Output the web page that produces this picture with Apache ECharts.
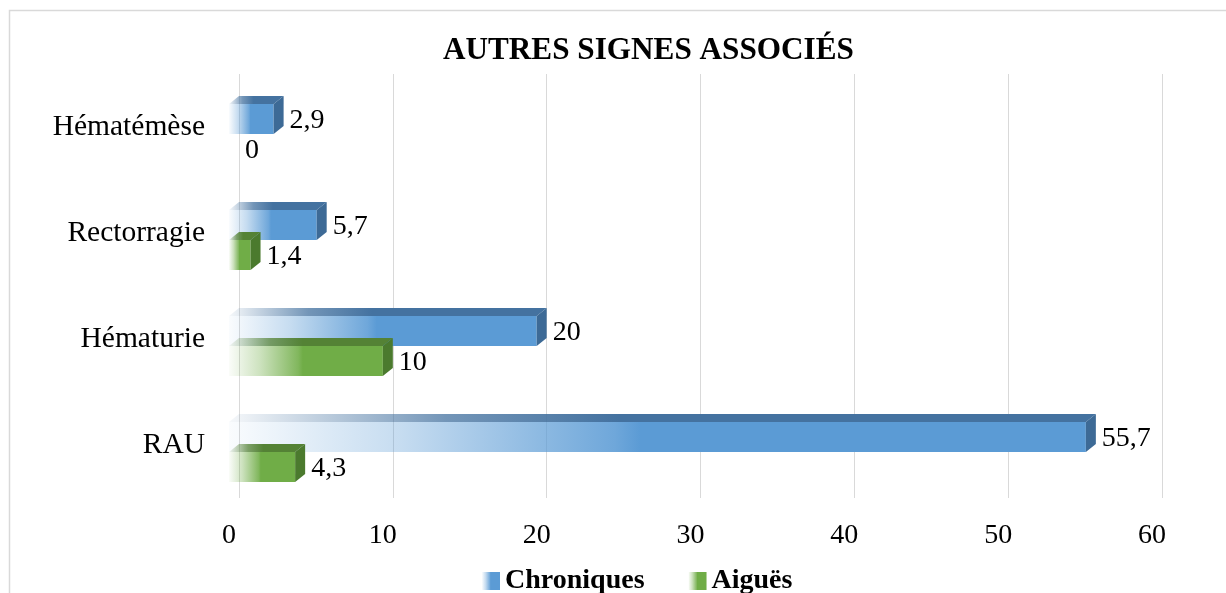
<!DOCTYPE html>
<html>
<head>
<meta charset="utf-8">
<script src="https://cdn.jsdelivr.net/npm/echarts@6/dist/echarts.min.js"></script>
<style>
  html, body { margin: 0; padding: 0; background: #fff; }
  #chart1 { width: 1226px; height: 593px; }
</style>
</head>
<body>
<div id="chart1"></div>
<script>
// données du graphique
var categories = ['Hématémèse', 'Rectorragie', 'Hématurie', 'RAU'];
var chroniques = [2.9, 5.7, 20, 55.7];
var aigues = [0, 1.4, 10, 4.3];
var xTicks = [0, 10, 20, 30, 40, 50, 60];

var FONT = 'Liberation Serif';

// dégradé horizontal : transparent à gauche, couleur pleine vers le milieu
function fade(r, g, b) {
    var c = 'rgba(' + r + ',' + g + ',' + b + ',';
    return new echarts.graphic.LinearGradient(0, 0, 1, 0, [
        { offset: 0, color: c + '0.03)' },
        { offset: 0.2, color: c + '0.35)' },
        { offset: 0.45, color: c + '0.88)' },
        { offset: 0.48, color: c + '1)' },
        { offset: 1, color: c + '1)' }
    ]);
}
// dessus de la barre : devient foncé plus vite
function fadeTop(r, g, b) {
    var c = 'rgba(' + r + ',' + g + ',' + b + ',';
    return new echarts.graphic.LinearGradient(0, 0, 1, 0, [
        { offset: 0, color: c + '0.05)' },
        { offset: 0.25, color: c + '0.75)' },
        { offset: 0.45, color: c + '1)' },
        { offset: 1, color: c + '1)' }
    ]);
}

var styles = [
    { front: [91, 155, 213], top: [68, 114, 160], side: '#3d6a96' },   // Chroniques
    { front: [112, 173, 71], top: [84, 130, 53], side: '#4b7a2e' }     // Aiguës
];

// barre "3D" : face avant + dessus + côté droit
function bar3d(idx) {
    return function (params, api) {
        var cat = api.value(0), v = api.value(1);
        var p0 = api.coord([0, cat]);
        var p1 = api.coord([v, cat]);
        var bw = 30, dx = 10, dy = 8;
        var yc = p0[1] + 7;
        var y0 = idx === 0 ? yc - bw : yc;
        var y1 = y0 + bw;
        var xl = p0[0] - dx, xr = p1[0] - dx;
        var st = styles[idx];
        var children = [];
        if (v > 0) {
            children.push({
                type: 'polygon',
                shape: { points: [[xl, y0], [xr, y0], [xr + dx, y0 - dy], [xl + dx, y0 - dy]] },
                style: { fill: fadeTop(st.top[0], st.top[1], st.top[2]) }
            });
            children.push({
                type: 'rect',
                shape: { x: xl, y: y0, width: xr - xl, height: bw },
                style: { fill: fade(st.front[0], st.front[1], st.front[2]) }
            });
            children.push({
                type: 'polygon',
                shape: { points: [[xr, y0], [xr + dx, y0 - dy], [xr + dx, y1 - dy], [xr, y1]] },
                style: { fill: st.side }
            });
        }
        children.push({
            type: 'text',
            x: xr + dx + 6,
            y: (y0 + y1) / 2 + 2,
            style: {
                text: String(v).replace('.', ','),
                fontFamily: FONT,
                fontSize: 28,
                fill: '#000',
                align: 'left',
                verticalAlign: 'middle'
            }
        });
        return { type: 'group', children: children };
    };
}

var myChart = echarts.init(document.getElementById('chart1'));
var option = {
    backgroundColor: '#fff',
    animation: false,
    title: {
        text: 'AUTRES SIGNES ASSOCIÉS',
        left: 438,
        top: 30,
        textStyle: { fontFamily: FONT, fontSize: 31.2, fontWeight: 'bold', color: '#000' }
    },
    graphic: [{
        type: 'rect',
        left: 7, top: 8,
        shape: { width: 1400, height: 800 },
        style: { fill: 'none', stroke: '#d9d9d9', lineWidth: 1.5 },
        silent: true
    }],
    legend: {
        left: 477,
        top: 562,
        icon: 'rect',
        itemWidth: 18,
        itemHeight: 18,
        itemGap: 44,
        textStyle: { fontFamily: FONT, fontSize: 28, fontWeight: 'bold', color: '#000' },
        data: ['Chroniques', 'Aiguës']
    },
    grid: { left: 239, right: 64, top: 74, bottom: 95 },
    xAxis: {
        type: 'value',
        min: xTicks[0],
        max: xTicks[xTicks.length - 1],
        interval: 10,
        axisLine: { show: false },
        axisTick: { show: false },
        splitLine: { lineStyle: { color: '#d9d9d9', width: 1 } },
        axisLabel: {
            fontFamily: FONT, fontSize: 28, color: '#000',
            margin: 24, padding: [0, 20, 0, 0]
        }
    },
    yAxis: {
        type: 'category',
        data: categories,
        inverse: true,
        axisLine: { show: false },
        axisTick: { show: false },
        splitLine: { show: false },
        axisLabel: {
            fontFamily: FONT, fontSize: 29.5, color: '#000',
            margin: 34, padding: [16, 0, 0, 0]
        }
    },
    series: [
        {
            name: 'Chroniques',
            type: 'custom',
            renderItem: bar3d(0),
            itemStyle: { color: fade(91, 155, 213) },
            encode: { x: 1, y: 0 },
            data: chroniques.map(function (v, i) { return [i, v]; })
        },
        {
            name: 'Aiguës',
            type: 'custom',
            renderItem: bar3d(1),
            itemStyle: { color: fade(112, 173, 71) },
            encode: { x: 1, y: 0 },
            data: aigues.map(function (v, i) { return [i, v]; })
        }
    ]
};
myChart.setOption(option);
</script>
</body>
</html>
